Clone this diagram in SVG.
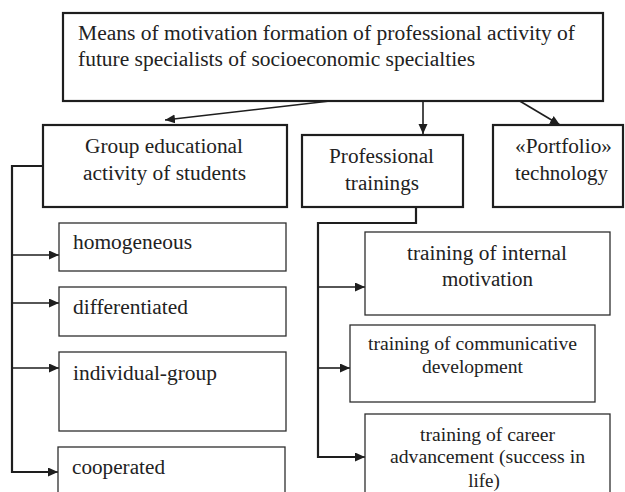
<svg xmlns="http://www.w3.org/2000/svg" width="625" height="492" viewBox="0 0 625 492">
<defs>
<style>
.bx{fill:#fff;stroke:#1e1e1e;stroke-width:2.2}
.sb{fill:#fff;stroke:#2e2e2e;stroke-width:1.3}
text{font-family:"Liberation Serif","Times New Roman",serif;font-size:20.5px;fill:#222}
.m{text-anchor:middle}
.s{font-size:19px}
.cn{fill:none;stroke:#1e1e1e;stroke-width:1.6}
.tk{fill:none;stroke:#1e1e1e;stroke-width:2.2}
</style>
<marker id="ah" markerUnits="userSpaceOnUse" markerWidth="11" markerHeight="10" refX="10" refY="4.5" orient="auto">
<path d="M0,0 L10,4.5 L0,9 z" fill="#1e1e1e"/>
</marker>
</defs>
<rect width="625" height="492" fill="#fff"/>
<g id="connectors">
<path class="cn" d="M330,101 L165,120" marker-end="url(#ah)"/>
<path class="cn" d="M423,101 V134" marker-end="url(#ah)"/>
<path class="cn" d="M518,100 L560,125" marker-end="url(#ah)"/>
<path class="tk" d="M43,166 H12 V472 H50"/>
<path class="cn" d="M50,472 H58" marker-end="url(#ah)"/>
<path class="cn" d="M12,255 H59" marker-end="url(#ah)"/>
<path class="cn" d="M12,303 H59" marker-end="url(#ah)"/>
<path class="cn" d="M12,368 H59" marker-end="url(#ah)"/>
<path class="tk" d="M416,207 V223 H318 V457 H355"/>
<path class="cn" d="M355,457 H365" marker-end="url(#ah)"/>
<path class="cn" d="M318,287 H365" marker-end="url(#ah)"/>
<path class="cn" d="M318,368 H350" marker-end="url(#ah)"/>
</g>
<g id="root">
<rect class="bx" x="63" y="13" width="540" height="88"/>
<text x="78" y="40" textLength="497" lengthAdjust="spacingAndGlyphs">Means of motivation formation of professional activity of</text>
<text x="78" y="66" textLength="397" lengthAdjust="spacingAndGlyphs">future specialists of socioeconomic specialties</text>
</g>
<g id="group">
<rect class="bx" x="43" y="125" width="244" height="82"/>
<text class="m" x="164" y="153" textLength="158" lengthAdjust="spacingAndGlyphs">Group educational</text>
<text class="m" x="164.5" y="180" textLength="163" lengthAdjust="spacingAndGlyphs">activity of students</text>
</g>
<g id="trainings">
<rect class="bx" x="302" y="135" width="161" height="72"/>
<text class="m" x="381.5" y="163" textLength="105" lengthAdjust="spacingAndGlyphs">Professional</text>
<text class="m" x="382" y="190" textLength="74" lengthAdjust="spacingAndGlyphs">trainings</text>
</g>
<g id="portfolio">
<rect class="bx" x="493" y="125" width="130" height="82"/>
<text class="m" x="563.5" y="153" textLength="97" lengthAdjust="spacingAndGlyphs">«Portfolio»</text>
<text class="m" x="561.5" y="180" textLength="93" lengthAdjust="spacingAndGlyphs">technology</text>
</g>
<g id="homogeneous">
<rect class="sb" x="59" y="223" width="227" height="48"/>
<text x="73" y="249" textLength="119" lengthAdjust="spacingAndGlyphs">homogeneous</text>
</g>
<g id="differentiated">
<rect class="sb" x="59" y="287" width="227" height="49"/>
<text x="73" y="314" textLength="115" lengthAdjust="spacingAndGlyphs">differentiated</text>
</g>
<g id="individual-group">
<rect class="sb" x="59" y="352" width="227" height="79"/>
<text x="73" y="380" textLength="144" lengthAdjust="spacingAndGlyphs">individual-group</text>
</g>
<g id="cooperated">
<rect class="sb" x="58" y="447" width="227" height="60"/>
<text x="72" y="474" textLength="93" lengthAdjust="spacingAndGlyphs">cooperated</text>
</g>
<g id="internal">
<rect class="sb" x="365" y="232" width="245" height="83"/>
<text class="m" x="487" y="260" textLength="160" lengthAdjust="spacingAndGlyphs">training of internal</text>
<text class="m" x="487.5" y="286" textLength="91" lengthAdjust="spacingAndGlyphs">motivation</text>
</g>
<g id="communicative">
<rect class="sb" x="350" y="325" width="245" height="77"/>
<text class="m s" x="472.5" y="350" textLength="209" lengthAdjust="spacingAndGlyphs">training of communicative</text>
<text class="m s" x="472.5" y="373" textLength="101" lengthAdjust="spacingAndGlyphs">development</text>
</g>
<g id="career">
<rect class="sb" x="365" y="414" width="245" height="93"/>
<text class="m s" x="487.5" y="441" textLength="135" lengthAdjust="spacingAndGlyphs">training of career</text>
<text class="m s" x="487.5" y="463" textLength="195" lengthAdjust="spacingAndGlyphs">advancement (success in</text>
<text class="m s" x="484" y="487">life)</text>
</g>
</svg>
